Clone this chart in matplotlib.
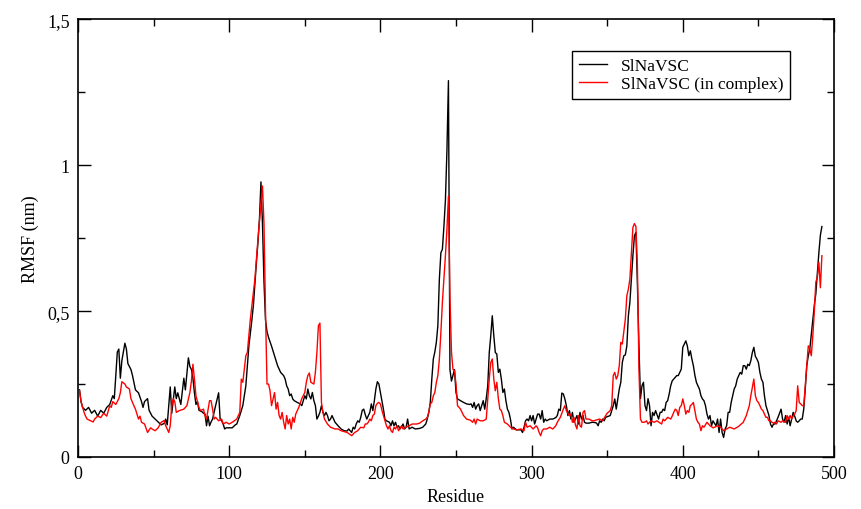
import numpy as np
import matplotlib
matplotlib.use("Agg")
import matplotlib.pyplot as plt
from matplotlib.ticker import MultipleLocator, FuncFormatter

plt.rcParams['font.family'] = ['Liberation Serif', 'DejaVu Serif']

# RMSF per residue, SlNaVSC alone (black)
apo_res = [
    1, 2, 3, 5, 7, 9, 11, 13, 15, 17,
    19, 21, 23, 24, 26, 27, 28, 29, 31, 32,
    33, 35, 36, 38, 40, 42, 43, 44, 46, 47,
    49, 51, 53, 55, 57, 58, 59, 61, 62, 64,
    65, 66, 68, 70, 71, 73, 74, 75, 76, 77,
    78, 79, 80, 82, 83, 84, 85, 86, 87, 88,
    89, 91, 93, 94, 95, 96, 97, 98, 100, 102,
    104, 105, 107, 109, 111, 113, 115, 116, 118, 119,
    120, 121, 122, 123, 124, 125, 126, 128, 130, 132,
    134, 136, 137, 138, 139, 140, 141, 142, 143, 145,
    147, 148, 149, 150, 151, 152, 153, 154, 155, 156,
    157, 158, 159, 160, 161, 162, 163, 164, 165, 166,
    167, 168, 170, 171, 172, 174, 176, 178, 179, 181,
    182, 183, 184, 185, 186, 187, 188, 189, 190, 191,
    193, 194, 195, 196, 197, 198, 199, 200, 201, 202,
    203, 204, 206, 207, 208, 209, 210, 211, 212, 213,
    215, 216, 217, 218, 219, 221, 223, 226, 228, 230,
    231, 232, 233, 234, 235, 236, 237, 238, 239, 240,
    241, 242, 243, 244, 245, 246, 247, 248, 249, 250,
    251, 253, 255, 257, 259, 260, 261, 262, 263, 264,
    265, 266, 267, 268, 269, 270, 271, 272, 273, 274,
    275, 276, 277, 278, 279, 280, 281, 282, 283, 284,
    285, 286, 287, 288, 290, 292, 293, 294, 295, 296,
    297, 298, 299, 300, 301, 302, 303, 304, 305, 306,
    307, 308, 309, 310, 312, 314, 316, 317, 318, 319,
    320, 321, 322, 323, 324, 325, 326, 327, 328, 329,
    330, 331, 332, 333, 334, 335, 336, 338, 340, 342,
    343, 344, 345, 346, 347, 348, 349, 350, 352, 353,
    354, 355, 356, 357, 358, 359, 360, 361, 362, 363,
    364, 365, 366, 367, 368, 369, 370, 371, 372, 373,
    374, 375, 376, 377, 378, 379, 380, 381, 382, 384,
    385, 386, 387, 388, 389, 390, 391, 392, 393, 394,
    396, 397, 398, 399, 400, 401, 402, 403, 404, 405,
    406, 407, 408, 409, 410, 411, 412, 413, 414, 415,
    416, 417, 418, 419, 420, 421, 422, 423, 424, 425,
    426, 427, 428, 429, 430, 431, 432, 433, 434, 435,
    436, 437, 438, 439, 440, 441, 442, 443, 444, 445,
    446, 447, 448, 449, 450, 451, 452, 453, 454, 455,
    456, 457, 458, 459, 460, 461, 462, 463, 464, 465,
    466, 467, 468, 469, 470, 471, 472, 473, 474, 475,
    476, 477, 478, 479, 480, 481, 482, 483, 484, 485,
    486, 487, 488, 489, 490, 491, 492,
]
apo_rmsf = [
    0.23, 0.19, 0.17, 0.16, 0.17, 0.15, 0.16, 0.14, 0.16, 0.15,
    0.17, 0.18, 0.21, 0.20, 0.36, 0.37, 0.27, 0.33, 0.39, 0.37,
    0.32, 0.30, 0.28, 0.23, 0.22, 0.19, 0.17, 0.19, 0.20, 0.16,
    0.14, 0.13, 0.12, 0.11, 0.115, 0.13, 0.11, 0.24, 0.15, 0.24,
    0.20, 0.22, 0.18, 0.27, 0.23, 0.34, 0.31, 0.30, 0.27, 0.22,
    0.18, 0.19, 0.16, 0.155, 0.15, 0.147, 0.107, 0.14, 0.107, 0.12,
    0.13, 0.176, 0.22, 0.13, 0.124, 0.113, 0.096, 0.10, 0.10, 0.10,
    0.11, 0.113, 0.142, 0.176, 0.244, 0.38, 0.47, 0.52, 0.667, 0.735,
    0.815, 0.943, 0.80, 0.60, 0.47, 0.43, 0.41, 0.38, 0.347, 0.313,
    0.29, 0.279, 0.267, 0.244, 0.233, 0.21, 0.216, 0.199, 0.193, 0.187,
    0.182, 0.176, 0.193, 0.21, 0.199, 0.233, 0.21, 0.199, 0.221, 0.193,
    0.176, 0.13, 0.14, 0.153, 0.176, 0.153, 0.142, 0.153, 0.142, 0.124,
    0.13, 0.142, 0.119, 0.113, 0.107, 0.096, 0.09, 0.089, 0.096, 0.084,
    0.102, 0.096, 0.113, 0.124, 0.119, 0.136, 0.16, 0.164, 0.145, 0.13,
    0.153, 0.182, 0.159, 0.193, 0.233, 0.258, 0.25, 0.221, 0.19, 0.164,
    0.13, 0.124, 0.119, 0.107, 0.124, 0.107, 0.119, 0.102, 0.107, 0.096,
    0.113, 0.096, 0.102, 0.13, 0.096, 0.102, 0.096, 0.098, 0.102, 0.113,
    0.13, 0.153, 0.187, 0.267, 0.336, 0.36, 0.393, 0.45, 0.61, 0.70,
    0.712, 0.79, 0.88, 1.05, 1.29, 0.30, 0.26, 0.28, 0.30, 0.221,
    0.199, 0.193, 0.187, 0.182, 0.18, 0.182, 0.17, 0.187, 0.164, 0.176,
    0.182, 0.159, 0.176, 0.193, 0.164, 0.20, 0.244, 0.358, 0.416, 0.484,
    0.416, 0.358, 0.353, 0.29, 0.301, 0.267, 0.221, 0.233, 0.193, 0.164,
    0.153, 0.13, 0.096, 0.102, 0.093, 0.093, 0.093, 0.084, 0.102, 0.124,
    0.13, 0.124, 0.142, 0.124, 0.142, 0.113, 0.13, 0.147, 0.147, 0.13,
    0.159, 0.119, 0.13, 0.124, 0.13, 0.13, 0.135, 0.142, 0.164, 0.159,
    0.219, 0.216, 0.199, 0.176, 0.142, 0.159, 0.13, 0.153, 0.119, 0.13,
    0.142, 0.113, 0.153, 0.13, 0.142, 0.119, 0.116, 0.116, 0.119, 0.118,
    0.116, 0.107, 0.124, 0.119, 0.13, 0.124, 0.136, 0.138, 0.142, 0.159,
    0.176, 0.199, 0.164, 0.199, 0.233, 0.256, 0.324, 0.347, 0.35, 0.381,
    0.484, 0.53, 0.61, 0.69, 0.758, 0.77, 0.59, 0.381, 0.20, 0.244,
    0.256, 0.176, 0.159, 0.20, 0.176, 0.107, 0.153, 0.142, 0.159, 0.13,
    0.153, 0.153, 0.164, 0.159, 0.187, 0.193, 0.216, 0.244, 0.261, 0.267,
    0.279, 0.279, 0.29, 0.301, 0.376, 0.387, 0.398, 0.381, 0.347, 0.364,
    0.336, 0.313, 0.28, 0.256, 0.244, 0.233, 0.21, 0.199, 0.193, 0.176,
    0.147, 0.13, 0.142, 0.107, 0.124, 0.115, 0.107, 0.13, 0.084, 0.13,
    0.084, 0.067, 0.096, 0.107, 0.153, 0.153, 0.187, 0.21, 0.233, 0.244,
    0.267, 0.279, 0.29, 0.284, 0.313, 0.313, 0.301, 0.318, 0.313, 0.33,
    0.358, 0.376, 0.345, 0.336, 0.324, 0.29, 0.267, 0.256, 0.21, 0.176,
    0.159, 0.142, 0.113, 0.102, 0.113, 0.113, 0.124, 0.136, 0.15, 0.164,
    0.13, 0.119, 0.142, 0.113, 0.136, 0.107, 0.13, 0.153, 0.14, 0.124,
    0.119, 0.124, 0.13, 0.13, 0.164, 0.233, 0.313, 0.347, 0.37, 0.42,
    0.47, 0.52, 0.56, 0.63, 0.70, 0.76, 0.79,
]

# RMSF per residue, SlNaVSC in complex (red)
cplx_res = [
    1, 2, 4, 5, 6, 8, 10, 11, 13, 15,
    17, 19, 21, 22, 23, 25, 27, 28, 29, 31,
    32, 34, 35, 36, 37, 38, 40, 41, 42, 44,
    46, 48, 49, 51, 53, 55, 57, 58, 60, 61,
    62, 63, 64, 65, 67, 70, 72, 74, 75, 76,
    77, 78, 80, 81, 83, 84, 85, 87, 88, 89,
    90, 91, 93, 95, 96, 98, 100, 102, 105, 107,
    108, 109, 111, 112, 114, 117, 119, 121, 122, 123,
    124, 125, 126, 127, 128, 129, 130, 131, 132, 133,
    134, 135, 136, 137, 138, 139, 140, 141, 142, 143,
    144, 146, 148, 150, 151, 152, 153, 154, 156, 157,
    158, 159, 160, 161, 162, 163, 165, 167, 170, 172,
    174, 176, 178, 181, 183, 185, 187, 189, 190, 191,
    192, 193, 194, 195, 196, 197, 198, 199, 200, 201,
    202, 203, 204, 205, 206, 207, 208, 209, 210, 211,
    212, 214, 215, 217, 219, 221, 224, 226, 228, 230,
    231, 232, 233, 234, 235, 236, 237, 238, 239, 240,
    241, 242, 243, 244, 245, 246, 247, 248, 249, 250,
    251, 253, 255, 257, 259, 260, 261, 262, 263, 264,
    266, 268, 270, 271, 272, 273, 274, 275, 276, 277,
    278, 279, 280, 281, 282, 284, 286, 288, 290, 293,
    295, 296, 297, 299, 301, 303, 304, 305, 306, 307,
    308, 310, 312, 314, 316, 317, 319, 321, 322, 323,
    325, 326, 327, 328, 329, 330, 331, 332, 333, 334,
    335, 336, 338, 340, 341, 343, 345, 347, 349, 350,
    352, 353, 354, 355, 356, 357, 358, 359, 360, 361,
    362, 363, 364, 365, 366, 367, 368, 369, 370, 371,
    372, 373, 374, 375, 376, 377, 378, 379, 381, 383,
    384, 386, 387, 388, 390, 392, 393, 394, 395, 396,
    397, 398, 399, 400, 401, 402, 403, 404, 405, 406,
    407, 408, 409, 410, 411, 412, 413, 414, 416, 418,
    420, 421, 423, 425, 427, 429, 431, 434, 436, 437,
    438, 440, 442, 444, 445, 446, 447, 448, 449, 450,
    451, 452, 453, 454, 455, 456, 457, 458, 459, 460,
    461, 462, 463, 465, 466, 468, 469, 470, 471, 472,
    473, 474, 475, 476, 477, 478, 479, 480, 481, 482,
    483, 484, 485, 486, 487, 488, 489, 490, 491, 492,
]
cplx_rmsf = [
    0.227, 0.19, 0.153, 0.14, 0.13, 0.125, 0.12, 0.13, 0.14, 0.135,
    0.15, 0.14, 0.176, 0.17, 0.19, 0.18, 0.20, 0.22, 0.258, 0.25,
    0.24, 0.233, 0.20, 0.187, 0.175, 0.164, 0.13, 0.14, 0.119, 0.113,
    0.084, 0.10, 0.096, 0.09, 0.10, 0.119, 0.125, 0.107, 0.084, 0.107,
    0.176, 0.20, 0.19, 0.153, 0.159, 0.164, 0.176, 0.221, 0.26, 0.318,
    0.267, 0.21, 0.17, 0.159, 0.164, 0.142, 0.13, 0.193, 0.193, 0.164,
    0.13, 0.136, 0.124, 0.13, 0.113, 0.119, 0.113, 0.119, 0.13, 0.153,
    0.267, 0.256, 0.347, 0.358, 0.473, 0.61, 0.746, 0.87, 0.929, 0.80,
    0.50, 0.25, 0.25, 0.227, 0.176, 0.199, 0.221, 0.164, 0.187, 0.142,
    0.13, 0.153, 0.12, 0.096, 0.142, 0.113, 0.13, 0.096, 0.136, 0.119,
    0.147, 0.17, 0.20, 0.221, 0.256, 0.279, 0.288, 0.256, 0.25, 0.29,
    0.358, 0.45, 0.459, 0.187, 0.153, 0.13, 0.113, 0.102, 0.096, 0.096,
    0.09, 0.087, 0.084, 0.073, 0.084, 0.09, 0.102, 0.10, 0.113, 0.113,
    0.119, 0.13, 0.124, 0.142, 0.147, 0.176, 0.184, 0.187, 0.182, 0.16,
    0.142, 0.124, 0.107, 0.096, 0.107, 0.09, 0.084, 0.102, 0.096, 0.107,
    0.09, 0.107, 0.096, 0.102, 0.107, 0.113, 0.113, 0.116, 0.124, 0.13,
    0.136, 0.153, 0.182, 0.187, 0.21, 0.221, 0.256, 0.279, 0.336, 0.427,
    0.53, 0.61, 0.69, 0.78, 0.894, 0.55, 0.36, 0.30, 0.296, 0.25,
    0.176, 0.164, 0.142, 0.13, 0.127, 0.124, 0.119, 0.13, 0.113, 0.13,
    0.124, 0.124, 0.13, 0.199, 0.267, 0.324, 0.336, 0.267, 0.227, 0.256,
    0.20, 0.164, 0.159, 0.142, 0.119, 0.113, 0.102, 0.096, 0.093, 0.096,
    0.09, 0.119, 0.102, 0.107, 0.096, 0.107, 0.10, 0.084, 0.073, 0.09,
    0.096, 0.096, 0.102, 0.096, 0.107, 0.119, 0.136, 0.164, 0.176, 0.159,
    0.142, 0.147, 0.119, 0.136, 0.11, 0.096, 0.142, 0.107, 0.102, 0.153,
    0.159, 0.13, 0.13, 0.124, 0.124, 0.127, 0.13, 0.124, 0.142, 0.15,
    0.159, 0.176, 0.279, 0.29, 0.267, 0.279, 0.313, 0.393, 0.387, 0.43,
    0.473, 0.553, 0.575, 0.61, 0.70, 0.787, 0.80, 0.79, 0.65, 0.30,
    0.13, 0.119, 0.119, 0.12, 0.124, 0.113, 0.119, 0.124, 0.119, 0.124,
    0.12, 0.113, 0.13, 0.124, 0.136, 0.13, 0.14, 0.153, 0.164, 0.16,
    0.142, 0.17, 0.176, 0.199, 0.176, 0.147, 0.159, 0.153, 0.176, 0.18,
    0.187, 0.159, 0.13, 0.119, 0.113, 0.09, 0.107, 0.102, 0.119, 0.107,
    0.10, 0.102, 0.107, 0.102, 0.09, 0.096, 0.102, 0.096, 0.102, 0.105,
    0.11, 0.119, 0.142, 0.176, 0.21, 0.239, 0.267, 0.21, 0.193, 0.187,
    0.176, 0.164, 0.159, 0.147, 0.136, 0.136, 0.124, 0.124, 0.119, 0.116,
    0.119, 0.113, 0.124, 0.119, 0.124, 0.119, 0.142, 0.13, 0.142, 0.13,
    0.14, 0.147, 0.159, 0.244, 0.187, 0.182, 0.176, 0.176, 0.244, 0.313,
    0.381, 0.37, 0.347, 0.415, 0.50, 0.60, 0.615, 0.667, 0.58, 0.69,
]

fig = plt.figure(figsize=(8.62, 5.10), dpi=100)
ax = fig.add_axes([0.0905, 0.102, 0.877, 0.858])

ax.plot(apo_res, apo_rmsf, color='black', lw=1.0, label='SlNaVSC')
ax.plot(cplx_res, cplx_rmsf, color='#ff0000', lw=1.0, label='SlNaVSC (in complex)')

ax.set_xlim(0, 500)
ax.set_ylim(0, 1.5)
ax.xaxis.set_major_locator(MultipleLocator(100))
ax.xaxis.set_minor_locator(MultipleLocator(50))
ax.yaxis.set_major_locator(MultipleLocator(0.5))
ax.yaxis.set_minor_locator(MultipleLocator(0.25))
ax.yaxis.set_major_formatter(FuncFormatter(lambda v, p: ('%g' % v).replace('.', ',')))

ax.tick_params(which='both', direction='in', top=True, right=True,
               labelsize=13, width=1.0)
ax.tick_params(which='major', length=9, pad=6)
ax.tick_params(which='minor', length=5)
for s in ax.spines.values():
    s.set_linewidth(1.2)

ax.set_xlabel('Residue', fontsize=13, labelpad=4)
ax.set_ylabel('RMSF (nm)', fontsize=13, labelpad=6)

leg = ax.legend(loc='upper right', bbox_to_anchor=(0.942, 0.928), borderaxespad=0,
                fontsize=12.5, fancybox=False, framealpha=1, edgecolor='black',
                handlelength=1.6, borderpad=0.4, labelspacing=0.1)
leg.get_frame().set_linewidth(1.0)

fig.savefig('out.png', dpi=100)
